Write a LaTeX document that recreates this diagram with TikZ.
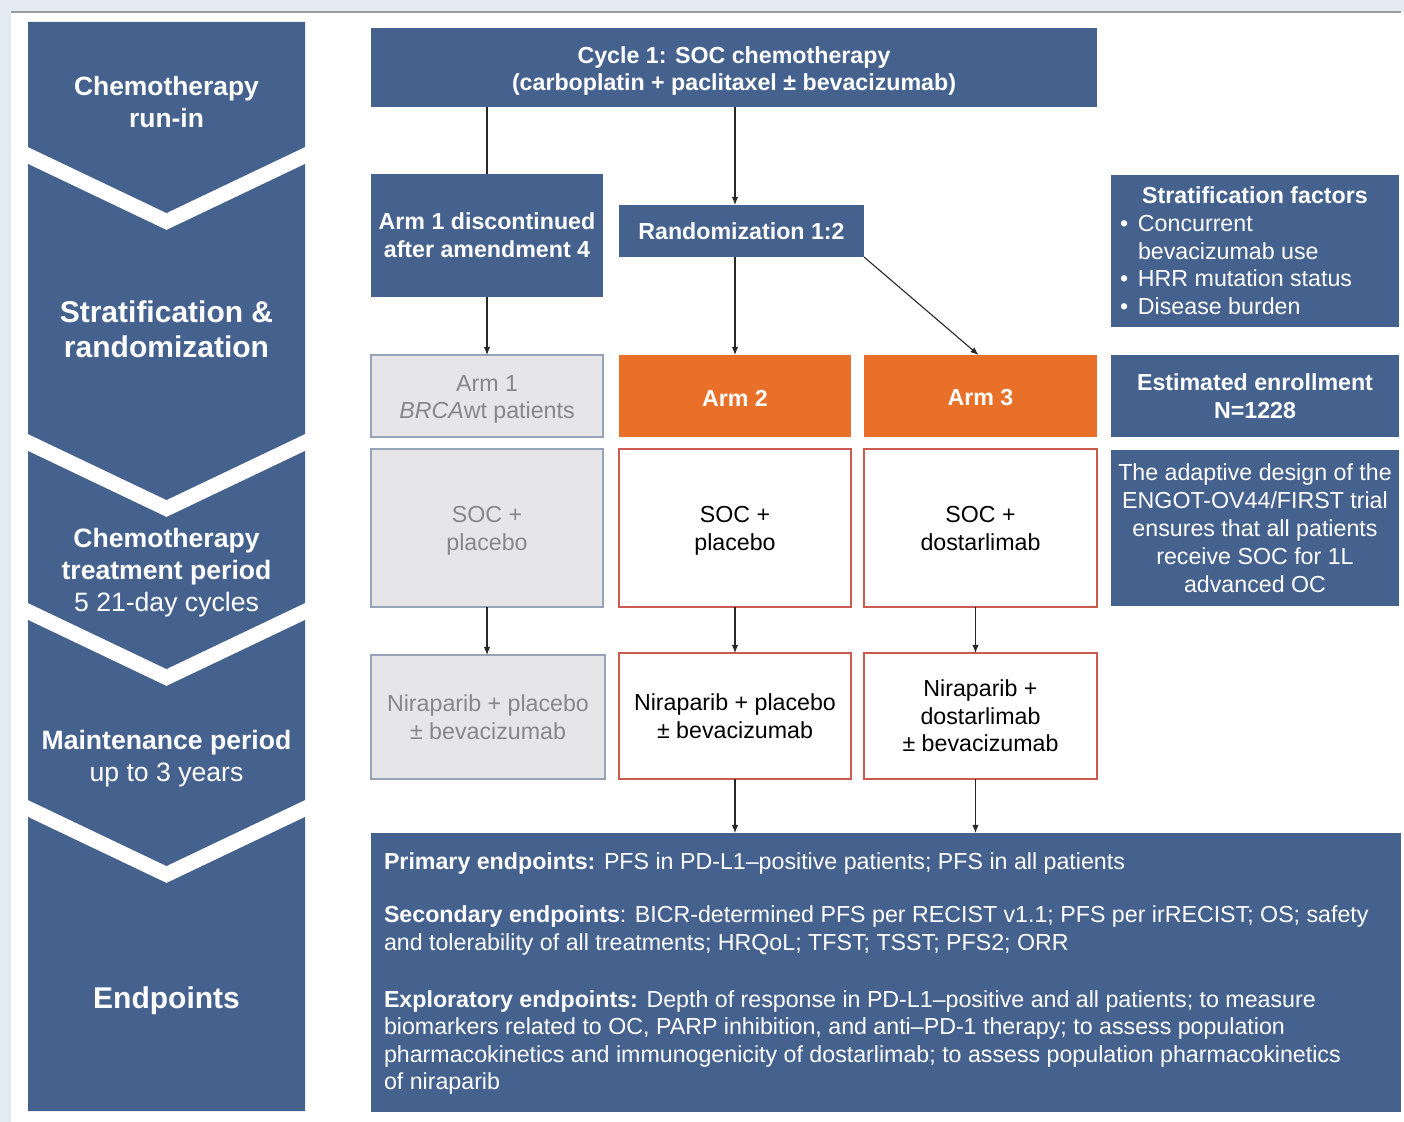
\documentclass[tikz,border=0pt]{standalone}
\usepackage{fontspec}
\setmainfont{Liberation Sans}
\usetikzlibrary{arrows.meta}
\definecolor{navy}{RGB}{69,98,143}
\definecolor{orng}{RGB}{232,112,40}
\definecolor{bgblue}{RGB}{228,234,242}
\definecolor{grayfill}{RGB}{230,230,232}
\definecolor{grayedge}{RGB}{150,163,185}
\definecolor{graytext}{RGB}{135,135,135}
\definecolor{rededge}{RGB}{205,90,80}
\definecolor{lineclr}{RGB}{40,40,40}
\definecolor{topline}{RGB}{150,158,168}
\begin{document}
\begin{tikzpicture}[x=0.5pt,y=-0.5pt,
  every node/.style={inner sep=0pt, outer sep=0pt},
  txt/.style={font=\fontsize{11.6}{13.8}\selectfont, align=center},
  btxt/.style={font=\fontsize{11.6}{13.8}\selectfont\bfseries, align=center},
  bluebox/.style={fill=navy, text=white},
  graybox/.style={fill=grayfill, draw=grayedge, line width=0.7pt},
  graytxt/.style={txt, text=graytext},
  orangebox/.style={fill=orng},
  redbox/.style={fill=white, draw=rededge, line width=0.7pt},
  conn/.style={draw=lineclr, line width=0.55pt},
  arr/.style={conn, -{Latex[length=4pt,width=3.2pt]}},
  phase/.style={fill=navy},
  phasetxt/.style={text=white, align=center},
]
\useasboundingbox (0,0) rectangle (1404,1122);
% background frame
\fill[bgblue] (0,0) rectangle (1404,1122);
\fill[white] (11,12) rectangle (1404,1122);
\draw[topline, line width=1pt] (11,12) -- (1401,12);

% left phase column
\fill[phase] (28,22) -- (305,22) -- (305,147) -- (166.5,213) -- (28,147) -- cycle;
\fill[phase] (28,164) -- (166.5,230) -- (305,164) -- (305,434) -- (166.5,500) -- (28,434) -- cycle;
\fill[phase] (28,451) -- (166.5,517) -- (305,451) -- (305,603) -- (166.5,669) -- (28,603) -- cycle;
\fill[phase] (28,620) -- (166.5,686) -- (305,620) -- (305,800) -- (166.5,866) -- (28,800) -- cycle;
\fill[phase] (28,817) -- (166.5,883) -- (305,817) -- (305,1111) -- (28,1111) -- cycle;

\node[phasetxt, font=\fontsize{13.2}{16}\selectfont\bfseries] (p1) at (166.5,102) {Chemotherapy\\run-in};
\node[phasetxt, font=\fontsize{15}{17.5}\selectfont\bfseries] (p2) at (166.5,329.5) {Stratification \&\\randomization};
\node[phasetxt, font=\fontsize{13.3}{16}\selectfont] (p3) at (166.5,573) {\textbf{Chemotherapy}\\\textbf{treatment period}\\5 21-day cycles};
\node[phasetxt, font=\fontsize{13.3}{16}\selectfont] (p4) at (166.5,759) {\textbf{Maintenance period}\\up to 3 years};
\node[phasetxt, font=\fontsize{15}{18}\selectfont\bfseries] (p5) at (166.5,1001) {Endpoints};

% right side boxes
\node[bluebox, minimum width=363pt, minimum height=39.5pt] (cycle) at (734,67.5) {};
\node[btxt, text=white] (cyclet) at (734,71) {Cycle 1: SOC chemotherapy\\(carboplatin + paclitaxel ± bevacizumab)};
\node[bluebox, btxt, minimum width=116pt, minimum height=61.5pt] (disc) at (487,235.5) {Arm 1 discontinued\\after amendment 4};
\node[bluebox, btxt, minimum width=122.5pt, minimum height=26pt] (rand) at (741.5,231) {Randomization 1:2};
\node[bluebox, minimum width=144pt, minimum height=76pt] (strat) at (1255,251) {};
\node[btxt, text=white] (strath) at (1255,195) {Stratification factors};
\node[txt, text=white, align=left, anchor=west] (stratl) at (1120,265) {\makebox[9pt][l]{•}Concurrent\\\hspace*{9pt}bevacizumab use\\\makebox[9pt][l]{•}HRR mutation status\\\makebox[9pt][l]{•}Disease burden};

\node[graybox, minimum width=116pt, minimum height=41pt] (arm1) at (487,396) {};
\node[graytxt] (arm1t) at (487,399.5) {Arm 1\\\textit{BRCA}wt patients};
\node[orangebox, minimum width=116pt, minimum height=41pt] (arm2) at (735,396) {};
\node[btxt, text=white] (arm2t) at (735,398) {Arm 2};
\node[orangebox, minimum width=116.5pt, minimum height=41pt] (arm3) at (980.5,396) {};
\node[btxt, text=white] (arm3t) at (980.5,398) {Arm 3};
\node[bluebox, btxt, minimum width=144pt, minimum height=41pt] (enroll) at (1255,396) {Estimated enrollment\\N=1228};

\node[graybox, minimum width=116pt, minimum height=79pt] (socg) at (487,528) {};
\node[graytxt] (socgt) at (487,531) {SOC +\\placebo};
\node[redbox, minimum width=116pt, minimum height=79pt] (soc2) at (735,528) {};
\node[txt] (soc2t) at (735,531) {SOC +\\placebo};
\node[redbox, minimum width=116.5pt, minimum height=79pt] (soc3) at (980.5,528) {};
\node[txt] (soc3t) at (980.5,528.5) {SOC +\\dostarlimab};
\node[bluebox, txt, font=\fontsize{11.6}{14}\selectfont, minimum width=144pt, minimum height=78pt] (adapt) at (1255,528) {The adaptive design of the\\ENGOT-OV44/FIRST trial\\ensures that all patients\\receive SOC for 1L\\advanced OC};

\node[graybox, graytxt, minimum width=117pt, minimum height=62pt] (nirg) at (488,717) {Niraparib + placebo\\± bevacizumab};
\node[redbox, txt, minimum width=116pt, minimum height=63pt] (nir2) at (735,716) {Niraparib + placebo\\± bevacizumab};
\node[redbox, txt, minimum width=116.5pt, minimum height=63pt] (nir3) at (980.5,716) {Niraparib +\\dostarlimab\\± bevacizumab};

\node[bluebox, minimum width=515pt, minimum height=139.5pt] (endp) at (886,972.5) {};
\node[txt, text=white, align=left, anchor=west] (endt) at (384,973.5) {\textbf{Primary endpoints:} PFS in PD-L1–positive patients; PFS in all patients\\[13pt]\textbf{Secondary endpoints}: BICR-determined PFS per RECIST v1.1; PFS per irRECIST; OS; safety\\and tolerability of all treatments; HRQoL; TFST; TSST; PFS2; ORR\\[14.5pt]\textbf{Exploratory endpoints:} Depth of response in PD-L1–positive and all patients; to measure\\biomarkers related to OC, PARP inhibition, and anti–PD-1 therapy; to assess population\\pharmacokinetics and immunogenicity of dostarlimab; to assess population pharmacokinetics\\of niraparib};

% connectors
\draw[conn] (cycle.south -| disc.north) -- (disc.north);
\draw[arr] (cycle.south -| arm2.north) -- (rand.north -| arm2.north);
\draw[arr] (disc.south) -- (arm1.north);
\draw[arr] (rand.south -| arm2.north) -- (arm2.north);
\draw[arr] (rand.south east) -- ([xshift=-1pt]arm3.north);
\draw[arr] (socg.south) -- (socg.south |- nirg.north);
\draw[arr] (soc2.south) -- (nir2.north);
\draw[arr] ([xshift=-2.5pt]soc3.south) -- ([xshift=-2.5pt]nir3.north);
\draw[arr] (nir2.south) -- (nir2.south |- endp.north);
\draw[arr] ([xshift=-2.5pt]nir3.south) -- ([xshift=-2.5pt]nir3.south |- endp.north);
\end{tikzpicture}
\end{document}
